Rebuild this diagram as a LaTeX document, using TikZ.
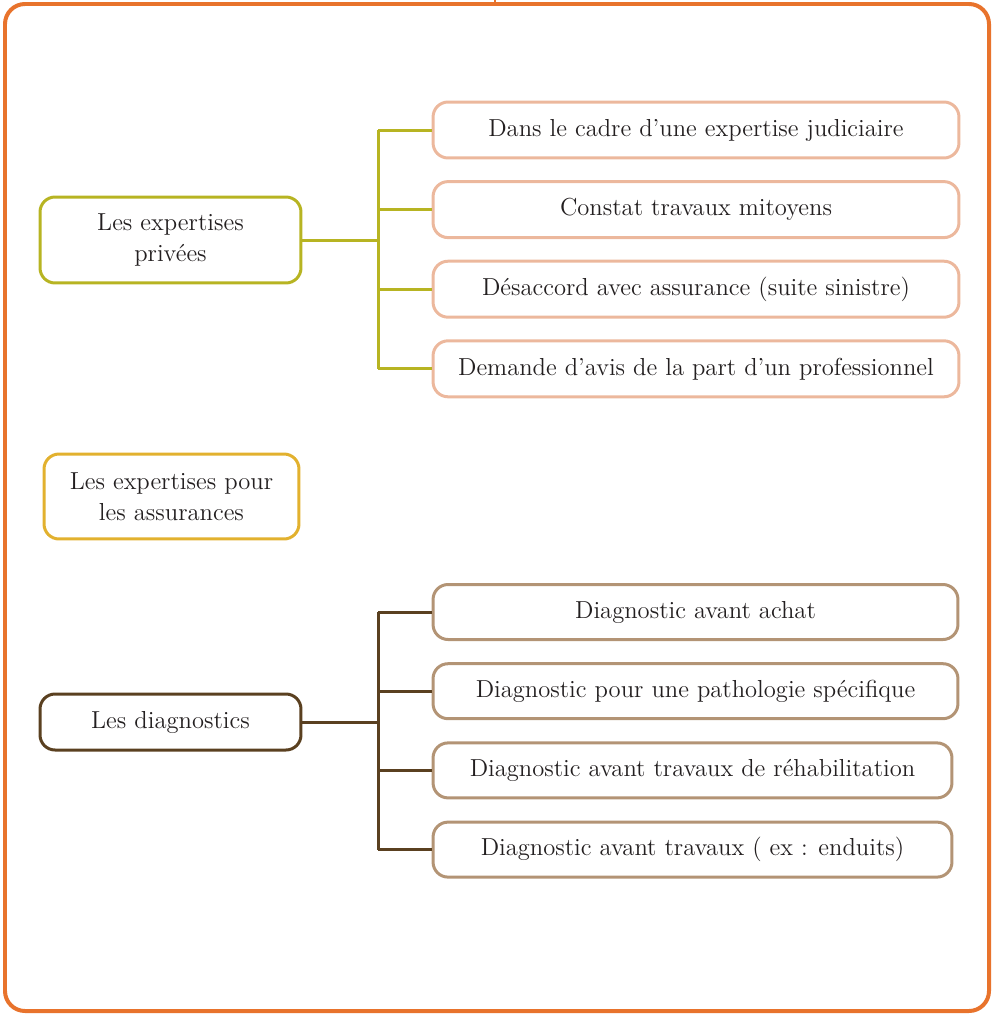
\documentclass[tikz,border=0pt]{standalone}
\usepackage{fontspec}
\usetikzlibrary{positioning}
\definecolor{cadre}{HTML}{E8732C}
\definecolor{vertolive}{HTML}{B7B422}
\definecolor{ocre}{HTML}{E2B12E}
\definecolor{brun}{HTML}{5A4020}
\definecolor{rose}{HTML}{ECB89D}
\definecolor{beige}{HTML}{B39475}
\definecolor{texte}{HTML}{231F20}

\begin{document}
\begin{tikzpicture}[x=0.02cm,y=-0.02cm,
  boite/.style={draw,rounded corners=0.3cm,line width=0.06cm,align=center,text=texte,font=\fontsize{14}{17.6}\selectfont,inner sep=0pt},
  lien/.style={line width=0.06cm}]
\useasboundingbox (0,0) rectangle (992,1014);
\draw[cadre,line width=0.08cm,rounded corners=0.4cm] (5,4) rectangle (989,1011);
\draw[cadre,line width=0.04cm] (495,0) -- (495,4);

% colonne de gauche
\node[boite,draw=vertolive,minimum width=5.22cm,minimum height=1.72cm] (prive) at (170.5,240) {Les expertises\\privées};
\node[boite,draw=ocre,minimum width=5.1cm,minimum height=1.7cm] (assur) at (171.5,496.5) {Les expertises pour\\les assurances};
\node[boite,draw=brun,minimum width=5.22cm,minimum height=1.12cm] (diag) at (170.5,722) {Les diagnostics};

% expertises privees
\foreach \txt [count=\n] in {Dans le cadre d’une expertise judiciaire,Constat travaux mitoyens,Désaccord avec assurance (suite sinistre),Demande d’avis de la part d’un professionnel}
  \node[boite,draw=rose,minimum width=10.52cm,minimum height=1.12cm] (P\n) at (696,{130+(\n-1)*79.6}) {\txt};

% diagnostics
\foreach \txt/\xc/\w [count=\n] in {Diagnostic avant achat/695.5/10.5,Diagnostic pour une pathologie spécifique/695.5/10.5,Diagnostic avant travaux de réhabilitation/692.5/10.38,Diagnostic avant travaux ( ex : enduits)/692.5/10.38}
  \node[boite,draw=beige,minimum width=\w cm,minimum height=1.1cm] (D\n) at (\xc,{612+(\n-1)*79.2}) {\txt};

\coordinate (t1) at (378,240);
\coordinate (t2) at (378,722);

\draw[lien,vertolive] (prive.east) -- (t1);
\draw[lien,vertolive] (P1.west -| t1) -- (P4.west -| t1);
\foreach \n in {1,...,4}
  \draw[lien,vertolive] (P\n.west -| t1) -- (P\n.west);

\draw[lien,brun] (diag.east) -- (t2);
\draw[lien,brun] (D1.west -| t2) -- (D4.west -| t2);
\foreach \n in {1,...,4}
  \draw[lien,brun] (D\n.west -| t2) -- (D\n.west);
\end{tikzpicture}
\end{document}
